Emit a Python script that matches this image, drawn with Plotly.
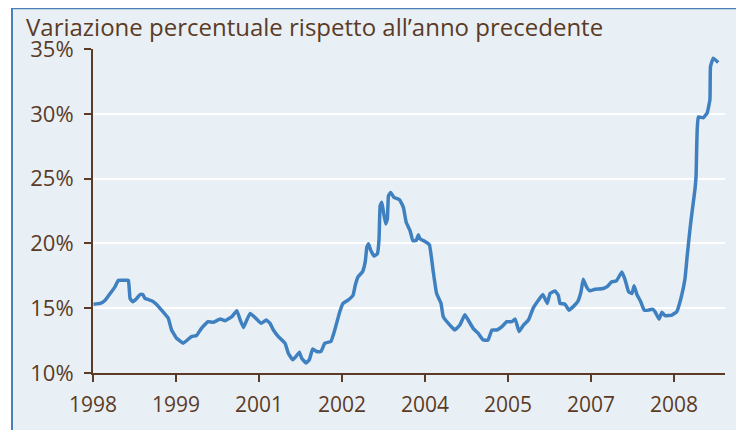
import plotly.graph_objects as go

# decimal years and year-on-year % change
years = [
    1998.01, 1998.13, 1998.22, 1998.31, 1998.40, 1998.46, 1998.58, 1998.64, 1998.67, 1998.72,
    1998.79, 1998.85, 1998.90, 1998.94, 1999.06, 1999.15, 1999.24, 1999.36, 1999.42, 1999.51,
    1999.63, 1999.78, 1999.87, 1999.96, 2000.08, 2000.17, 2000.30, 2000.39, 2000.51, 2000.60,
    2000.66, 2000.72, 2000.78, 2000.84, 2000.93, 2001.04, 2001.13, 2001.20, 2001.26, 2001.35,
    2001.47, 2001.53, 2001.61, 2001.67, 2001.73, 2001.77, 2001.85, 2001.91, 2001.97, 2002.04,
    2002.12, 2002.19, 2002.30, 2002.37, 2002.46, 2002.52, 2002.61, 2002.70, 2002.74, 2002.79,
    2002.87, 2002.92, 2002.95, 2002.98, 2003.02, 2003.08, 2003.14, 2003.17, 2003.19, 2003.22,
    2003.25, 2003.29, 2003.32, 2003.34, 2003.38, 2003.44, 2003.54, 2003.61, 2003.66, 2003.73,
    2003.78, 2003.84, 2003.88, 2003.91, 2004.00, 2004.08, 2004.15, 2004.21, 2004.29, 2004.33,
    2004.45, 2004.54, 2004.63, 2004.72, 2004.78, 2004.87, 2004.96, 2005.05, 2005.14, 2005.21,
    2005.30, 2005.39, 2005.48, 2005.57, 2005.63, 2005.70, 2005.78, 2005.87, 2005.96, 2006.05,
    2006.13, 2006.21, 2006.26, 2006.35, 2006.41, 2006.44, 2006.53, 2006.60, 2006.68, 2006.76,
    2006.82, 2006.86, 2006.92, 2006.98, 2007.07, 2007.22, 2007.31, 2007.37, 2007.46, 2007.56,
    2007.62, 2007.68, 2007.74, 2007.78, 2007.83, 2007.90, 2007.96, 2008.04, 2008.11, 2008.16,
    2008.23, 2008.28, 2008.34, 2008.46, 2008.55, 2008.64, 2008.70, 2008.74, 2008.79, 2008.83,
    2008.88, 2008.90, 2008.91, 2008.92, 2008.94, 2009.03, 2009.10, 2009.15, 2009.16, 2009.21,
    2009.30,
]
pct_change = [
    15.31, 15.37, 15.62, 16.13, 16.67, 17.15, 17.15, 17.15, 15.75, 15.50,
    15.75, 16.06, 16.06, 15.75, 15.58, 15.29, 14.85, 14.22, 13.32, 12.68,
    12.30, 12.81, 12.89, 13.45, 13.96, 13.91, 14.16, 14.04, 14.35, 14.81,
    14.09, 13.50, 14.09, 14.60, 14.27, 13.83, 14.09, 13.83, 13.32, 12.81,
    12.30, 11.53, 11.02, 11.28, 11.61, 11.15, 10.77, 11.02, 11.86, 11.66,
    11.66, 12.30, 12.43, 13.32, 14.73, 15.37, 15.62, 16.00, 16.77, 17.42,
    17.80, 18.57, 19.72, 19.97, 19.46, 19.03, 19.20, 20.35, 22.91, 23.17,
    22.40, 21.50, 21.89, 23.67, 23.93, 23.55, 23.37, 22.78, 21.63, 20.99,
    20.22, 20.22, 20.66, 20.35, 20.15, 19.89, 17.80, 16.13, 15.37, 14.35,
    13.70, 13.32, 13.70, 14.50, 14.09, 13.45, 13.07, 12.55, 12.55, 13.32,
    13.32, 13.58, 13.96, 13.96, 14.16, 13.20, 13.70, 14.09, 15.04, 15.62,
    16.06, 15.37, 16.13, 16.33, 16.00, 15.37, 15.31, 14.85, 15.12, 15.50,
    16.27, 17.23, 16.65, 16.34, 16.46, 16.52, 16.73, 17.03, 17.11, 17.80,
    17.15, 16.27, 16.13, 16.73, 16.06, 15.50, 14.85, 14.85, 14.93, 14.72,
    14.16, 14.68, 14.42, 14.47, 14.73, 16.00, 17.29, 19.07, 21.12, 22.52,
    24.19, 25.26, 27.25, 28.79, 29.76, 29.69, 30.07, 31.09, 33.64, 34.29,
    33.95,
]

x_ticks = [1998, 1999.5, 2001, 2002.5, 2004, 2005.5, 2007, 2008.5]
x_tick_labels = ["1998", "1999", "2001", "2002", "2004", "2005", "2007", "2008"]
y_ticks = [10, 15, 20, 25, 30, 35]
y_tick_labels = ["10%", "15%", "20%", "25%", "30%", "35%"]

BROWN = "#5b3b26"
BG = "#e9f0f5"
BAND = "#4a80b8"
FONT = "Open Sans"

fig = go.Figure()
fig.add_trace(go.Scatter(
    x=years, y=pct_change, mode="lines",
    line=dict(color="#3f80c0", width=3.5, shape="spline", smoothing=0.3),
    hoverinfo="x+y",
))

# the page puts the figure 8px in from the top-left corner
OFF = 8
W, H = 744 - OFF, 430 - OFF
# plot area in window pixels: x 93..725, y 49..375
L, R, T, B = 93 - OFF, 19, 49 - OFF, 55
pw, ph = W - L - R, H - T - B


def px_x(p):
    # window pixel -> paper x
    return (p - OFF - L) / pw


def px_y(p):
    # window pixel -> paper y
    return (H - B - (p - OFF)) / ph


fig.update_layout(
    width=W, height=H,
    margin=dict(l=L, r=R, t=T, b=B),
    paper_bgcolor="white",
    plot_bgcolor=BG,
    showlegend=False,
    font=dict(family=FONT, color=BROWN, size=20),
    shapes=[
        dict(type="rect", xref="paper", yref="paper", layer="below",
             x0=px_x(13), x1=px_x(760), y0=px_y(440), y1=px_y(OFF),
             fillcolor=BG, line_width=0),
        dict(type="rect", xref="paper", yref="paper", layer="above",
             x0=px_x(11), x1=px_x(760), y0=px_y(OFF + 1), y1=px_y(OFF - 2),
             fillcolor=BAND, line_width=0),
        dict(type="rect", xref="paper", yref="paper", layer="above",
             x0=px_x(11), x1=px_x(13), y0=px_y(440), y1=px_y(OFF),
             fillcolor=BAND, line_width=0),
    ],
    annotations=[dict(
        text="Variazione percentuale rispetto all’anno precedente",
        xref="paper", yref="paper", x=px_x(24), y=px_y(OFF),
        xanchor="left", yanchor="top", showarrow=False,
        font=dict(family=FONT, size=24, color=BROWN),
    )],
)

fig.update_xaxes(
    range=[1998, 1998 + pw / 55.33],
    tickvals=x_ticks, ticktext=x_tick_labels,
    showgrid=False, zeroline=False,
    showline=True, linecolor=BROWN, linewidth=2,
    ticks="outside", ticklen=7, tickwidth=2, tickcolor=BROWN,
    tickfont=dict(size=21, color=BROWN),
    ticklabelstandoff=5,
)
fig.update_yaxes(
    range=[10, 35],
    tickvals=y_ticks, ticktext=y_tick_labels,
    showgrid=True, gridcolor="white", gridwidth=2,
    zeroline=False,
    showline=True, linecolor=BROWN, linewidth=2,
    ticks="outside", ticklen=7, tickwidth=2, tickcolor=BROWN,
    tickfont=dict(size=22, color=BROWN),
    ticklabelstandoff=6,
)

fig.write_html("out.html")
